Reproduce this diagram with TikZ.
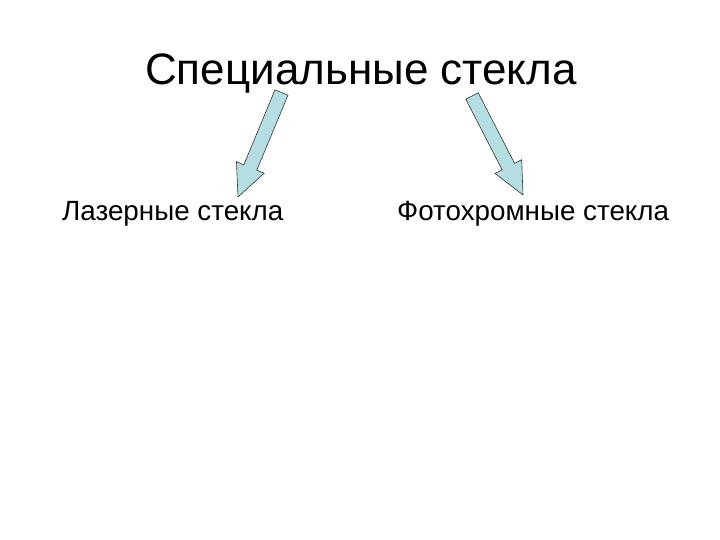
\documentclass[tikz,border=0pt]{standalone}
\usepackage{fontspec}
\setmainfont{Liberation Sans}
\usetikzlibrary{calc}
\definecolor{arrfill}{RGB}{180,222,226}
\tikzset{
  blockarrow/.style={draw=black!80, line width=0.6pt, fill=arrfill, line join=miter},
  title/.style={font=\fontsize{44}{48}\selectfont, inner sep=0pt, anchor=base},
  item/.style={font=\fontsize{27.8}{32}\selectfont, inner sep=0pt, anchor=base west}
}
\begin{document}
\begin{tikzpicture}[x=1pt,y=-1pt]
\useasboundingbox (0,0) rectangle (720,540);
\node[title] (t) at (361,85) {Специальные стекла};
\node[item] (l) at (62,221) {Лазерные стекла};
\node[item] (r) at (397,221) {Фотохромные стекла};
% left arrow
\coordinate (lt) at (281.5,92.5);
\coordinate (lp) at (238,197);
\coordinate (ln) at ($(lp)!32pt!(lt)$);
\draw[blockarrow] ($(lt)!7pt!90:(lp)$) -- ($(ln)!7pt!-90:(lt)$) -- ($(ln)!15pt!-90:(lt)$) -- (lp)
  -- ($(ln)!15pt!90:(lt)$) -- ($(ln)!7pt!90:(lt)$) -- ($(lt)!7pt!-90:(lp)$) -- cycle;
% right arrow
\coordinate (rt) at (472,96);
\coordinate (rp) at (523,195);
\coordinate (rn) at ($(rp)!32pt!(rt)$);
\draw[blockarrow] ($(rt)!7pt!90:(rp)$) -- ($(rn)!7pt!-90:(rt)$) -- ($(rn)!15pt!-90:(rt)$) -- (rp)
  -- ($(rn)!15pt!90:(rt)$) -- ($(rn)!7pt!90:(rt)$) -- ($(rt)!7pt!-90:(rp)$) -- cycle;
\end{tikzpicture}
\end{document}
